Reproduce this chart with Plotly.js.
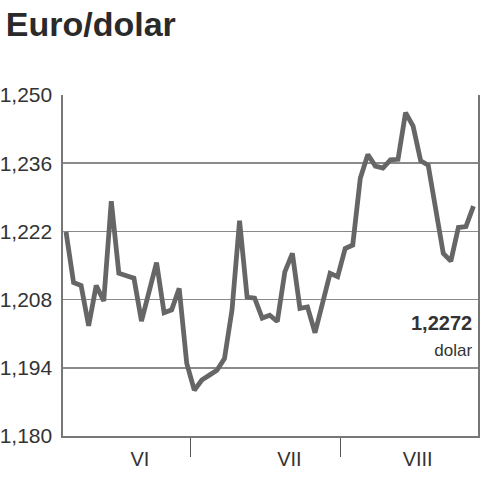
<!DOCTYPE html>
<html>
<head>
<meta charset="utf-8">
<script src="https://cdn.plot.ly/plotly-3.0.1.min.js"></script>
<style>html,body{margin:0;padding:0;background:#fff;}#chart{width:480px;height:480px;}</style>
</head>
<body>
<div id="chart"></div>
<script>
// Euro/dolar daily rate (June - August)
const rates = [
  1.2219, 1.2115, 1.2109, 1.2026, 1.2109, 1.2077, 1.2282, 1.2134, 1.2129, 1.2124,
  1.2036, 1.2100, 1.2156, 1.2053, 1.2059, 1.2103, 1.1949, 1.1894, 1.1915, 1.1925,
  1.1935, 1.1959, 1.2059, 1.2242, 1.2085, 1.2083, 1.2042, 1.2048, 1.2035, 1.2137,
  1.2175, 1.2062, 1.2065, 1.2012, 1.2072, 1.2134, 1.2127, 1.2185, 1.2192, 1.2329,
  1.2378, 1.2354, 1.2350, 1.2367, 1.2368, 1.2464, 1.2436, 1.2365, 1.2356, 1.2271,
  1.2175, 1.2159, 1.2228, 1.2230, 1.2272
];
const dayIndex = rates.map((_, i) => i);
const monthLabels = ['VI', 'VII', 'VIII'];
const monthLabelPos = [9.8, 29.6, 46.6];
const monthBoundaries = [16.5, 36.4];
const yTicks = [1.180, 1.194, 1.208, 1.222, 1.236, 1.250];
const lastValueText = '1,2272';
const lastValueUnit = 'dolar';

const trace = {
  x: dayIndex,
  y: rates,
  type: 'scatter',
  mode: 'lines',
  line: {color: '#666666', width: 4.8},
  hoverinfo: 'skip'
};

const layout = {
  width: 480,
  height: 480,
  margin: {l: 63, r: 2, t: 95, b: 44},
  paper_bgcolor: '#ffffff',
  plot_bgcolor: '#ffffff',
  separators: ',.',
  showlegend: false,
  font: {family: 'Liberation Sans, Arial, sans-serif', color: '#333333'},
  title: {
    text: '<b>Euro/dolar</b>',
    font: {family: 'Liberation Sans, Arial, sans-serif', size: 34, color: '#2a2a2a'},
    x: 0.012, xanchor: 'left', xref: 'container',
    y: 0.95, yanchor: 'middle', yref: 'container'
  },
  xaxis: {
    range: [-0.4, 54.6],
    showgrid: false,
    zeroline: false,
    showline: true,
    linecolor: '#777777',
    linewidth: 2,
    mirror: false,
    tickmode: 'array',
    tickvals: monthLabelPos,
    ticktext: monthLabels,
    ticks: '',
    ticklabelstandoff: 4,
    tickfont: {size: 20, color: '#333333'},
    minor: {
      tickmode: 'array',
      tickvals: monthBoundaries,
      ticks: 'outside',
      ticklen: 19,
      tickwidth: 1.5,
      tickcolor: '#555555',
      showgrid: false
    },
    fixedrange: true
  },
  yaxis: {
    range: [1.180, 1.250],
    tickmode: 'array',
    tickvals: yTicks,
    tickformat: '.3f',
    showgrid: true,
    gridcolor: '#8a8a8a',
    gridwidth: 1.6,
    zeroline: false,
    showline: true,
    linecolor: '#777777',
    linewidth: 1.6,
    mirror: true,
    ticks: '',
    ticklabelstandoff: 5,
    tickfont: {size: 21, color: '#333333'},
    fixedrange: true
  },
  annotations: [
    {
      x: 1, xref: 'paper', xanchor: 'right',
      y: 1.2005, yref: 'y', yanchor: 'middle',
      text: '<b>' + lastValueText + '</b><br><span style="font-size:17px">' + lastValueUnit + '</span>',
      align: 'right',
      showarrow: false,
      xshift: -3,
      font: {size: 20, color: '#333333', family: 'Liberation Sans, Arial, sans-serif'}
    }
  ]
};

Plotly.newPlot('chart', [trace], layout, {displayModeBar: false, staticPlot: true});
</script>
</body>
</html>
